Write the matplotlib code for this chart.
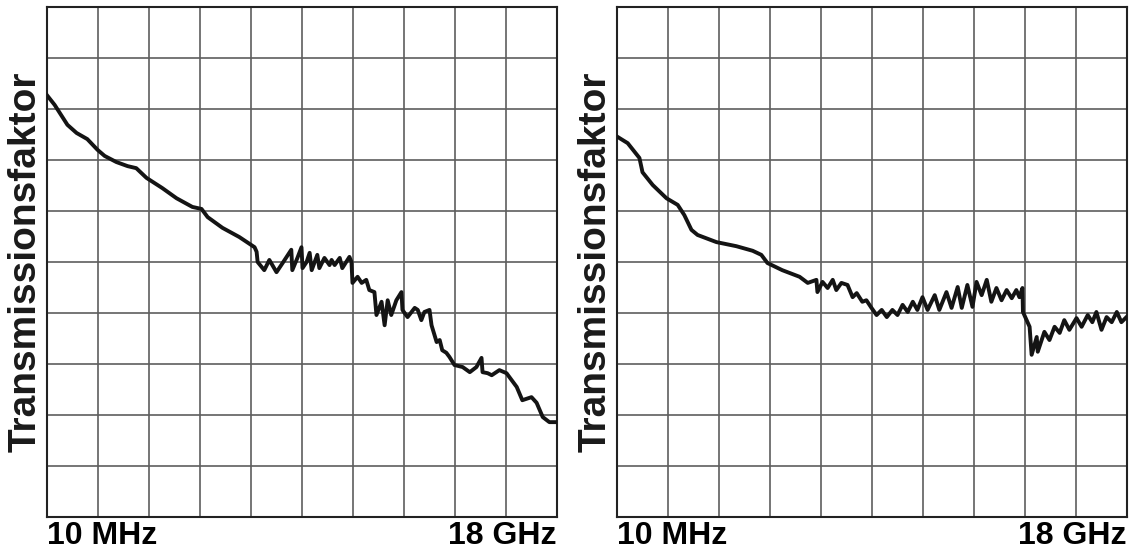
import numpy as np
import matplotlib.pyplot as plt

# transmission curves (x and y in grid divisions 0..10)
left_x = [0.00, 0.15, 0.40, 0.58, 0.79, 0.99, 1.13, 1.36, 1.58, 1.75, 1.95, 2.26,
          2.54, 2.85, 3.03, 3.15, 3.44, 3.77, 4.07, 4.11, 4.13, 4.26, 4.36, 4.50,
          4.62, 4.79, 4.81, 4.91, 4.99, 5.01, 5.09, 5.15, 5.19, 5.30, 5.34, 5.44,
          5.54, 5.58, 5.64, 5.74, 5.79, 5.93, 5.97, 5.99, 6.09, 6.17, 6.26, 6.32,
          6.42, 6.46, 6.56, 6.62, 6.68, 6.75, 6.85, 6.95, 6.97, 7.07, 7.21, 7.27,
          7.34, 7.40, 7.50, 7.54, 7.64, 7.70, 7.75, 7.83, 7.89, 7.99, 8.15, 8.29,
          8.42, 8.52, 8.54, 8.64, 8.72, 8.87, 9.01, 9.21, 9.32, 9.50, 9.60, 9.72,
          9.85, 9.99]
left_y = [8.27, 8.08, 7.69, 7.53, 7.41, 7.20, 7.08, 6.96, 6.88, 6.84, 6.65, 6.45,
          6.25, 6.08, 6.04, 5.88, 5.67, 5.49, 5.29, 5.20, 5.00, 4.84, 5.04, 4.80,
          4.98, 5.24, 4.84, 5.08, 5.29, 4.88, 5.00, 5.18, 4.84, 5.14, 4.88, 5.08,
          4.94, 5.04, 4.94, 5.08, 4.88, 5.10, 5.00, 4.59, 4.71, 4.59, 4.65, 4.45,
          4.41, 3.96, 4.22, 3.76, 4.25, 3.96, 4.25, 4.41, 4.06, 3.92, 4.10, 4.06,
          3.86, 4.02, 4.06, 3.76, 3.43, 3.47, 3.27, 3.22, 3.14, 2.98, 2.94, 2.84,
          2.94, 3.12, 2.84, 2.82, 2.78, 2.88, 2.82, 2.55, 2.29, 2.35, 2.24, 1.96,
          1.86, 1.86]

right_x = [0.00, 0.21, 0.44, 0.50, 0.70, 0.97, 1.19, 1.32, 1.46, 1.58, 1.95, 2.34,
           2.66, 2.83, 2.95, 3.24, 3.58, 3.74, 3.91, 3.93, 4.03, 4.13, 4.23, 4.30,
           4.40, 4.52, 4.62, 4.70, 4.81, 4.89, 4.99, 5.09, 5.19, 5.29, 5.40, 5.50,
           5.60, 5.70, 5.80, 5.89, 5.99, 6.09, 6.23, 6.32, 6.46, 6.56, 6.68, 6.76,
           6.87, 6.97, 7.05, 7.15, 7.25, 7.34, 7.44, 7.54, 7.64, 7.74, 7.83, 7.89,
           7.95, 7.96, 8.09, 8.13, 8.23, 8.25, 8.38, 8.48, 8.58, 8.68, 8.77, 8.87,
           9.01, 9.11, 9.23, 9.32, 9.40, 9.50, 9.60, 9.70, 9.80, 9.89, 9.99]
right_y = [7.46, 7.33, 7.04, 6.76, 6.51, 6.25, 6.12, 5.92, 5.63, 5.53, 5.39, 5.31,
           5.22, 5.14, 4.98, 4.84, 4.71, 4.59, 4.65, 4.41, 4.61, 4.49, 4.65, 4.45,
           4.59, 4.55, 4.31, 4.39, 4.22, 4.25, 4.10, 3.96, 4.06, 3.92, 4.06, 3.96,
           4.16, 4.02, 4.22, 4.06, 4.31, 4.06, 4.35, 4.06, 4.41, 4.10, 4.51, 4.10,
           4.55, 4.12, 4.61, 4.35, 4.65, 4.22, 4.49, 4.25, 4.45, 4.29, 4.45, 4.31,
           4.49, 4.02, 3.73, 3.18, 3.53, 3.24, 3.63, 3.47, 3.73, 3.61, 3.86, 3.67,
           3.90, 3.73, 3.96, 3.82, 4.02, 3.67, 3.92, 3.82, 4.02, 3.82, 3.92]

ylabel = 'Transmissionsfaktor'
freq_labels = ['10 MHz', '18 GHz']

plt.rcParams['font.family'] = ['Liberation Sans', 'DejaVu Sans']

fig = plt.figure(figsize=(11.4, 5.56), dpi=100)
ax1 = fig.add_axes([47 / 1140, 39 / 556, 510 / 1140, 510 / 556])
ax2 = fig.add_axes([617 / 1140, 39 / 556, 510 / 1140, 510 / 556])

for ax, xs, ys in [(ax1, left_x, left_y), (ax2, right_x, right_y)]:
    ax.plot(xs, ys, color='#141414', lw=2.8, solid_joinstyle='round', zorder=3)
    ax.set_xlim(0, 10)
    ax.set_ylim(0, 10)
    ax.set_xticks(np.arange(1, 10), minor=True)
    ax.set_yticks(np.arange(1, 10), minor=True)
    ax.set_xticks([0, 10])
    ax.set_xticklabels(freq_labels, fontsize=23, fontweight='bold')
    lbls = ax.get_xticklabels()
    lbls[0].set_horizontalalignment('left')
    lbls[1].set_horizontalalignment('right')
    ax.set_yticks([])
    ax.tick_params(which='both', length=0)
    ax.tick_params(axis='x', pad=3)
    ax.grid(which='minor', color='#5e5e5e', lw=1.2)
    for sp in ax.spines.values():
        sp.set_color('#222222')
        sp.set_linewidth(1.5)
    ax.set_ylabel(ylabel, fontsize=28, fontweight='bold', color='#1a1a1a')
    ax.yaxis.set_label_coords(-0.006, 0.5)
    ax.yaxis.label.set_verticalalignment('bottom')

fig.savefig('out.png', dpi=100)
